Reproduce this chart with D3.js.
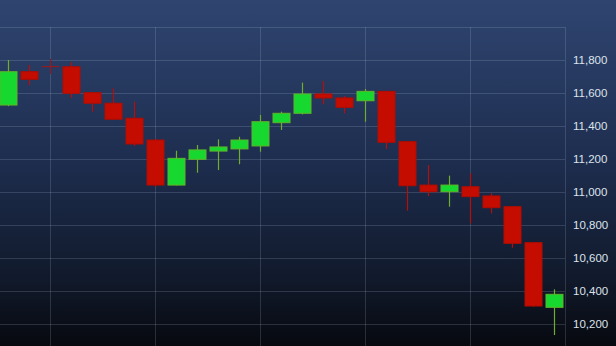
<!DOCTYPE html>
<html>
<head>
<meta charset="utf-8">
<script src="https://cdn.jsdelivr.net/npm/d3@7"></script>
<style>
  html, body { margin: 0; padding: 0; background: #0b0f18; }
  svg { display: block; }
</style>
</head>
<body>
<svg class="chart"></svg>
<script>
// Total dimensions
var w = 616,
    h = 346;

// Daily candles
var opens  = [11527, 11729, 11760, 11759, 11602, 11538, 11447, 11315, 11042, 11198,
              11248, 11261, 11279, 11420, 11477, 11594, 11570, 11553, 11610, 11305,
              11042, 11002, 11032, 10976, 10911, 10693, 10301];
var highs  = [11800, 11770, 11806, 11788, 11602, 11628, 11547, 11318, 11250, 11285,
              11319, 11335, 11467, 11487, 11663, 11673, 11582, 11624, 11612, 11305,
              11164, 11099, 11113, 10992, 10911, 10693, 10410];
var lows   = [11520, 11648, 11715, 11570, 11487, 11438, 11279, 11032, 11040, 11117,
              11133, 11168, 11244, 11376, 11470, 11532, 11477, 11426, 11261, 10887,
              10976, 10911, 10810, 10871, 10662, 10305, 10133];
var closes = [11729, 11683, 11760, 11598, 11538, 11441, 11291, 11042, 11204, 11255,
              11273, 11315, 11426, 11477, 11594, 11570, 11513, 11610, 11301, 11038,
              11002, 11042, 10972, 10905, 10689, 10309, 10380];

// y tick labels
var yTicks = [10200, 10400, 10600, 10800, 11000, 11200, 11400, 11600, 11800];
// first candle of each week (vertical gridlines)
var weekStarts = [2, 7, 12, 17, 22];

var svg = d3.select(".chart")
    .attr("width", w)
    .attr("height", h);

// Background gradient
var defs = svg.append("defs");
var grad = defs.append("linearGradient")
    .attr("id", "bg")
    .attr("x1", 0).attr("y1", 0)
    .attr("x2", 0).attr("y2", 1);
grad.append("stop").attr("offset", "0%").attr("stop-color", "#2f4570");
grad.append("stop").attr("offset", "45%").attr("stop-color", "#1e2e50");
grad.append("stop").attr("offset", "80%").attr("stop-color", "#111a2c");
grad.append("stop").attr("offset", "100%").attr("stop-color", "#07090f");

svg.append("rect")
    .attr("width", w)
    .attr("height", h)
    .attr("fill", "url(#bg)");

// Plot area
var plotTop = 27,
    plotRight = 565;

var n = closes.length;
var data = d3.range(n).map(function(i) {
    return { i: i, open: opens[i], high: highs[i], low: lows[i], close: closes[i] };
});

var xScale = d3.scaleLinear()
    .domain([0, n - 1])
    .range([8, 554]);

var yScale = d3.scaleLinear()
    .domain([10200, 11800])
    .range([324, 60]);

var bodyW = 17;
var gridColor = "rgba(190,205,230,0.18)";

// ==================== grid ====================
var grid = svg.append("g").attr("class", "grid");

grid.selectAll(".hgrid")
    .data(yTicks)
    .enter().append("line")
    .attr("class", "hgrid")
    .attr("x1", 0)
    .attr("x2", plotRight)
    .attr("y1", function(d) { return yScale(d) + 0.5; })
    .attr("y2", function(d) { return yScale(d) + 0.5; })
    .attr("stroke", gridColor);

grid.selectAll(".vgrid")
    .data(weekStarts)
    .enter().append("line")
    .attr("class", "vgrid")
    .attr("x1", function(d) { return xScale(d) + 0.5; })
    .attr("x2", function(d) { return xScale(d) + 0.5; })
    .attr("y1", plotTop)
    .attr("y2", h)
    .attr("stroke", gridColor);

// border (top and right)
grid.append("line")
    .attr("x1", 0).attr("x2", plotRight)
    .attr("y1", plotTop + 0.5).attr("y2", plotTop + 0.5)
    .attr("stroke", gridColor);
grid.append("line")
    .attr("x1", plotRight + 0.5).attr("x2", plotRight + 0.5)
    .attr("y1", plotTop).attr("y2", h)
    .attr("stroke", gridColor);

// ==================== candles ====================
var up = function(d) { return d.close > d.open; };
var doji = function(d) { return d.close === d.open; };

var candles = svg.append("g").attr("class", "candles")
    .selectAll("g")
    .data(data)
    .enter().append("g");

candles.append("line")
    .attr("x1", function(d) { return Math.round(xScale(d.i)) + 0.5; })
    .attr("x2", function(d) { return Math.round(xScale(d.i)) + 0.5; })
    .attr("y1", function(d) { return yScale(d.high); })
    .attr("y2", function(d) { return yScale(d.low); })
    .attr("stroke", function(d) { return doji(d) ? "#8e1c22" : up(d) ? "#6fae2c" : "#b3100c"; })
    .attr("stroke-width", 1.2);

candles.filter(function(d) { return !doji(d); })
    .append("rect")
    .attr("x", function(d) { return Math.round(xScale(d.i)) - bodyW / 2 + 0.5; })
    .attr("width", bodyW)
    .attr("y", function(d) { return yScale(Math.max(d.open, d.close)); })
    .attr("height", function(d) {
        return Math.max(1.5, Math.abs(yScale(d.open) - yScale(d.close)));
    })
    .attr("fill", function(d) { return up(d) ? "#17d82e" : "#c40d00"; })
    .attr("stroke", function(d) { return up(d) ? "#5fb52a" : "#b20c02"; })
    .attr("stroke-width", 1);

// doji: a thin cross bar
candles.filter(doji)
    .append("line")
    .attr("x1", function(d) { return Math.round(xScale(d.i)) - bodyW / 2; })
    .attr("x2", function(d) { return Math.round(xScale(d.i)) + bodyW / 2 + 1; })
    .attr("y1", function(d) { return yScale(d.open); })
    .attr("y2", function(d) { return yScale(d.open); })
    .attr("stroke", "#8e1c22")
    .attr("stroke-width", 1.2);

// ==================== y axis labels ====================
svg.append("g").attr("class", "y labels")
    .selectAll("text")
    .data(yTicks)
    .enter().append("text")
    .attr("x", 573)
    .attr("y", function(d) { return yScale(d); })
    .attr("dy", "0.36em")
    .attr("font-family", "Liberation Sans, Arial, sans-serif")
    .attr("font-size", "11.5px")
    .attr("fill", "#dde3ec")
    .text(d3.format(","));
</script>
</body>
</html>
